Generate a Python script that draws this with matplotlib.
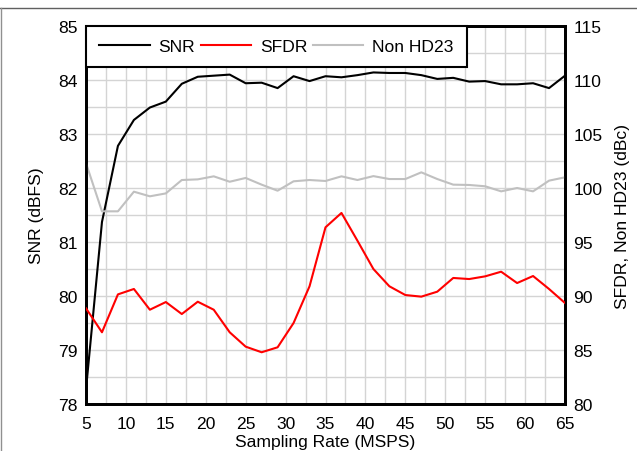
import matplotlib
matplotlib.use('Agg')
import matplotlib.pyplot as plt
from matplotlib.ticker import MultipleLocator
from matplotlib.lines import Line2D

plt.rcParams['font.family'] = ['Liberation Sans', 'DejaVu Sans']

# 采样率 (MSPS)
rate = [5, 7, 9, 11, 13, 15, 17, 19, 21, 23, 25, 27, 29, 31, 33, 35,
        37, 39, 41, 43, 45, 47, 49, 51, 53, 55, 57, 59, 61, 63, 65]

# SNR (dBFS), left axis
snr = [78.27, 81.37, 82.78, 83.26, 83.49, 83.60, 83.93, 84.06, 84.08, 84.10,
       83.94, 83.95, 83.85, 84.07, 83.98, 84.07, 84.05, 84.09, 84.14, 84.13,
       84.13, 84.09, 84.02, 84.04, 83.97, 83.98, 83.92, 83.92, 83.94, 83.85,
       84.08]

# SFDR (dBc), right axis
sfdr = [88.86, 86.64, 90.15, 90.65, 88.73, 89.44, 88.33, 89.47, 88.73, 86.64,
        85.31, 84.79, 85.25, 87.50, 90.90, 96.36, 97.69, 95.12, 92.50, 90.90,
        90.09, 89.94, 90.40, 91.67, 91.57, 91.82, 92.25, 91.20, 91.85, 90.65,
        89.35]

# Non HD23 (dBc), right axis
non_hd23 = [102.3, 97.84, 97.84, 99.66, 99.23, 99.50, 100.74, 100.80, 101.08,
            100.58, 100.93, 100.31, 99.75, 100.62, 100.74, 100.65, 101.08,
            100.74, 101.10, 100.83, 100.83, 101.45, 100.83, 100.31, 100.28,
            100.16, 99.69, 100.00, 99.69, 100.68, 100.99]

fs = 12.6

fig = plt.figure(figsize=(6.37, 4.52), dpi=100)
ax = fig.add_axes([86 / 637, 47 / 452, 479 / 637, 378 / 452])
ax2 = ax.twinx()

# 网格
ax.set_xlim(5, 65)
ax.set_ylim(78, 85)
ax.xaxis.set_major_locator(MultipleLocator(5))
ax.xaxis.set_minor_locator(MultipleLocator(2.5))
ax.yaxis.set_major_locator(MultipleLocator(1))
ax.yaxis.set_minor_locator(MultipleLocator(0.5))
ax.grid(True, which='both', color='#d4d4d4', lw=1.0)
ax.set_axisbelow(True)

ax2.set_ylim(80, 115)
ax2.yaxis.set_major_locator(MultipleLocator(5))

l1, = ax.plot(rate, snr, color='black', lw=1.5, zorder=4)
l2, = ax2.plot(rate, sfdr, color='#ff0000', lw=1.5, zorder=3)
l3, = ax2.plot(rate, non_hd23, color='#c0c0c0', lw=1.5, zorder=2)

for a in (ax, ax2):
    a.tick_params(which='both', length=0, labelsize=fs, pad=6)
    for s in a.spines.values():
        s.set_linewidth(2)
        s.set_color('black')
ax.tick_params(axis='x', pad=9)

ax.set_xlabel('Sampling Rate (MSPS)', fontsize=fs, labelpad=2)
ax.set_ylabel('SNR (dBFS)', fontsize=fs, labelpad=10)
ax2.set_ylabel('SFDR, Non HD23 (dBc)', fontsize=fs, labelpad=9)

handles = [Line2D([], [], color='black', lw=1.5),
           Line2D([], [], color='#ff0000', lw=1.5),
           Line2D([], [], color='#c0c0c0', lw=1.5)]
leg = ax2.legend(handles, ['SNR', 'SFDR', 'Non HD23'], ncol=3,
                 loc='upper left', bbox_to_anchor=(0, 1), borderaxespad=0,
                 fancybox=False, fontsize=fs, handlelength=2.9,
                 handletextpad=0.5, columnspacing=0.3, borderpad=0.75,
                 framealpha=1)
leg.get_frame().set_edgecolor('black')
leg.get_frame().set_linewidth(1.5)

# 外框线 (top and left)
fig.add_artist(Line2D([0, 1], [1 - 9 / 452, 1 - 9 / 452], color='#606060', lw=1,
                      transform=fig.transFigure))
fig.add_artist(Line2D([0.5 / 637, 0.5 / 637], [0, 1 - 9 / 452], color='#909090', lw=1,
                      transform=fig.transFigure))

fig.savefig('out.png', dpi=100)
